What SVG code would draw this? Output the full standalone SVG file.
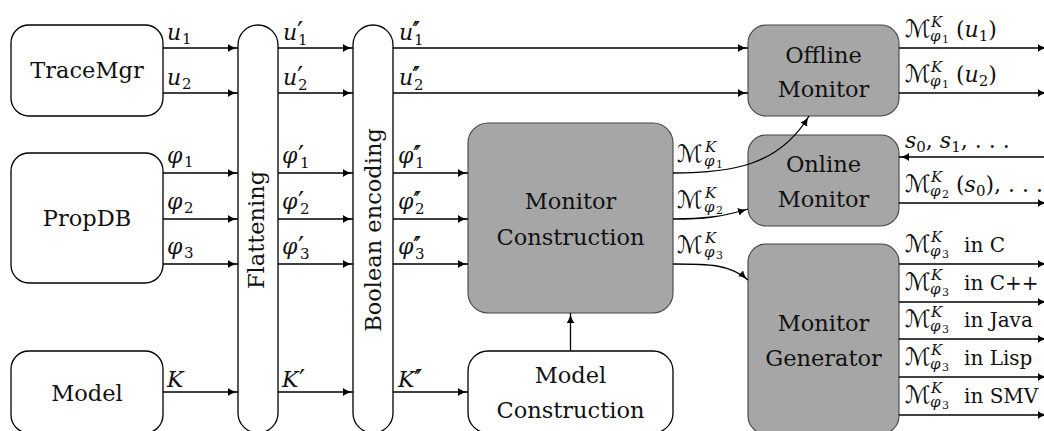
<svg xmlns="http://www.w3.org/2000/svg" width="1044" height="431" viewBox="0 0 1044 431">
  <style>
    .box { fill: #ffffff; stroke: #000000; stroke-width: 1.3; }
    .gbox { fill: #a6a6a6; stroke: #444444; stroke-width: 1.1; }
    .edge { fill: none; stroke: #000000; stroke-width: 1.3; marker-end: url(#arr); }
    .t { font-family: "DejaVu Serif", serif; font-size: 22.5px; text-anchor: middle; fill: #111111; }
    .m { font-family: "DejaVu Serif", serif; font-size: 22px; font-style: italic; fill: #111111; }
    .r { font-style: normal; }
    .s { font-size: 15px; }
    .ss { font-size: 11px; }
    .p { font-family: "DejaVu Serif", serif; font-size: 27px; font-style: normal; fill: #111111; }
    .p2 { letter-spacing: -4px; }
    .in { font-size: 20px; }
    .cal { font-family: "DejaVu Serif", "DejaVu Sans", serif; font-style: normal; font-size: 24px; fill: #111111; }
  </style>
  <defs>
    <marker id="arr" markerUnits="userSpaceOnUse" markerWidth="11" markerHeight="9" refX="10" refY="4" orient="auto">
      <path d="M10,4 C7,4.3 2.5,5.6 0,8 L0,0 C2.5,2.4 7,3.7 10,4 z" fill="#000000"/>
    </marker>
  </defs>

  <!-- source nodes -->
  <g id="tracemgr">
    <rect class="box" x="11" y="25" width="152" height="91" rx="18"/>
    <text class="t" x="87" y="78">TraceMgr</text>
  </g>
  <g id="propdb">
    <rect class="box" x="11" y="153" width="152" height="130" rx="18"/>
    <text class="t" x="87" y="226">PropDB</text>
  </g>
  <g id="model">
    <rect class="box" x="11" y="351" width="152" height="82" rx="18"/>
    <text class="t" x="87" y="401">Model</text>
  </g>

  <!-- transformation stages -->
  <g id="flattening">
    <rect class="box" x="238" y="25" width="40" height="408" rx="20"/>
    <text class="t" transform="translate(264,230) rotate(-90)">Flattening</text>
  </g>
  <g id="boolean-encoding">
    <rect class="box" x="353" y="25" width="40" height="408" rx="20"/>
    <text class="t" transform="translate(381,230) rotate(-90)">Boolean encoding</text>
  </g>

  <g id="monitor-construction">
    <rect class="gbox" x="468" y="123" width="205" height="190" rx="20"/>
    <text class="t" x="570.5" y="209">Monitor</text>
    <text class="t" x="570.5" y="245">Construction</text>
  </g>
  <g id="model-construction">
    <rect class="box" x="468" y="351" width="205" height="82" rx="20"/>
    <text class="t" x="570.5" y="383">Model</text>
    <text class="t" x="570.5" y="418">Construction</text>
  </g>

  <!-- monitor back-ends -->
  <g id="offline-monitor">
    <rect class="gbox" x="748" y="25" width="151" height="91" rx="18"/>
    <text class="t" x="823.5" y="63">Offline</text>
    <text class="t" x="823.5" y="97">Monitor</text>
  </g>
  <g id="online-monitor">
    <rect class="gbox" x="748" y="135" width="151" height="91" rx="18"/>
    <text class="t" x="823.5" y="172">Online</text>
    <text class="t" x="823.5" y="207">Monitor</text>
  </g>
  <g id="monitor-generator">
    <rect class="gbox" x="748" y="244" width="151" height="190" rx="18"/>
    <text class="t" x="823.5" y="331">Monitor</text>
    <text class="t" x="823.5" y="366">Generator</text>
  </g>

  <!-- connectors -->
  <g id="connectors">
    <path class="edge" d="M163,48 H238"/>
    <path class="edge" d="M163,93 H238"/>
    <path class="edge" d="M278,48 H353"/>
    <path class="edge" d="M278,93 H353"/>
    <path class="edge" d="M393,48 H748"/>
    <path class="edge" d="M393,93 H748"/>

    <path class="edge" d="M163,173 H238"/>
    <path class="edge" d="M163,219 H238"/>
    <path class="edge" d="M163,264 H238"/>
    <path class="edge" d="M278,173 H353"/>
    <path class="edge" d="M278,219 H353"/>
    <path class="edge" d="M278,264 H353"/>
    <path class="edge" d="M393,173 H468"/>
    <path class="edge" d="M393,219 H468"/>
    <path class="edge" d="M393,264 H468"/>

    <path class="edge" d="M163,392 H238"/>
    <path class="edge" d="M278,392 H353"/>
    <path class="edge" d="M393,392 H468"/>

    <path class="edge" d="M570.5,351 V313"/>

    <path class="edge" d="M673,173 C731,173 779,166 809,116"/>
    <path class="edge" d="M673,219 C703,219 722,217 748,209"/>
    <path class="edge" d="M673,264 C708,264 730,264 748,280"/>

    <path class="edge" d="M899,48 H1048"/>
    <path class="edge" d="M899,93 H1048"/>
    <path class="edge" d="M1050,157 H899"/>
    <path class="edge" d="M899,203 H1048"/>
    <path class="edge" d="M899,264 H1048"/>
    <path class="edge" d="M899,302 H1048"/>
    <path class="edge" d="M899,339 H1048"/>
    <path class="edge" d="M899,377 H1048"/>
    <path class="edge" d="M899,415 H1048"/>
  </g>

  <!-- edge labels -->
  <g id="labels">
    <text class="m" x="167" y="40">u</text><text class="m r s" x="182" y="44">1</text>
    <text class="m" x="167" y="85">u</text><text class="m r s" x="182" y="89">2</text>
    <text class="m" x="283" y="40">u</text><text class="p" x="297" y="42">′</text><text class="m r s" x="298" y="45">1</text>
    <text class="m" x="283" y="85">u</text><text class="p" x="297" y="87">′</text><text class="m r s" x="298" y="90">2</text>
    <text class="m" x="399" y="40">u</text><text class="p p2" x="412" y="42">′′</text><text class="m r s" x="414" y="45">1</text>
    <text class="m" x="399" y="85">u</text><text class="p p2" x="412" y="87">′′</text><text class="m r s" x="414" y="90">2</text>

    <text class="m" x="167" y="163">φ</text><text class="m r s" x="184" y="167">1</text>
    <text class="m" x="167" y="209">φ</text><text class="m r s" x="184" y="213">2</text>
    <text class="m" x="167" y="254">φ</text><text class="m r s" x="184" y="258">3</text>
    <text class="m" x="282" y="163">φ</text><text class="p" x="298" y="166">′</text><text class="m r s" x="300" y="168">1</text>
    <text class="m" x="282" y="209">φ</text><text class="p" x="298" y="212">′</text><text class="m r s" x="300" y="214">2</text>
    <text class="m" x="282" y="254">φ</text><text class="p" x="298" y="257">′</text><text class="m r s" x="300" y="259">3</text>
    <text class="m" x="398" y="163">φ</text><text class="p p2" x="413" y="166">′′</text><text class="m r s" x="415" y="168">1</text>
    <text class="m" x="398" y="209">φ</text><text class="p p2" x="413" y="212">′′</text><text class="m r s" x="415" y="214">2</text>
    <text class="m" x="398" y="254">φ</text><text class="p p2" x="413" y="257">′′</text><text class="m r s" x="415" y="259">3</text>

    <text class="m" x="167" y="387">K</text>
    <text class="m" x="282" y="387">K</text><text class="p" x="299" y="390">′</text>
    <text class="m" x="398" y="387">K</text><text class="p p2" x="414" y="390">′′</text>

    <!-- monitor construction outputs -->
    <text class="cal" x="677" y="162">ℳ</text><text class="m s" x="705" y="152">K</text><text class="m s" x="704" y="166">φ</text><text class="m r ss" x="716" y="168">1</text>
    <text class="cal" x="677" y="208">ℳ</text><text class="m s" x="705" y="198">K</text><text class="m s" x="704" y="212">φ</text><text class="m r ss" x="716" y="214">2</text>
    <text class="cal" x="677" y="253">ℳ</text><text class="m s" x="705" y="243">K</text><text class="m s" x="704" y="257">φ</text><text class="m r ss" x="716" y="259">3</text>

    <!-- monitor results -->
    <text class="cal" x="905" y="37">ℳ</text><text class="m s" x="931" y="27">K</text><text class="m s" x="930" y="41">φ</text><text class="m r ss" x="942" y="43">1</text>
    <text class="m" x="956" y="37"><tspan class="r">(</tspan>u<tspan class="r s" dy="4">1</tspan><tspan class="r" dy="-4">)</tspan></text>
    <text class="cal" x="905" y="82">ℳ</text><text class="m s" x="931" y="72">K</text><text class="m s" x="930" y="86">φ</text><text class="m r ss" x="942" y="88">1</text>
    <text class="m" x="956" y="82"><tspan class="r">(</tspan>u<tspan class="r s" dy="4">2</tspan><tspan class="r" dy="-4">)</tspan></text>

    <text class="m" x="905" y="148">s<tspan class="r s" dy="4">0</tspan><tspan class="r" dy="-4">, </tspan>s<tspan class="r s" dy="4">1</tspan><tspan class="r" dy="-4">, . . .</tspan></text>

    <text class="cal" x="905" y="192">ℳ</text><text class="m s" x="931" y="182">K</text><text class="m s" x="930" y="196">φ</text><text class="m r ss" x="942" y="198">2</text>
    <text class="m" x="956" y="192"><tspan class="r">(</tspan>s<tspan class="r s" dy="4">0</tspan><tspan class="r" dy="-4">), . . .</tspan></text>

    <text class="cal" x="905" y="252">ℳ</text><text class="m s" x="931" y="242">K</text><text class="m s" x="930" y="256">φ</text><text class="m r ss" x="942" y="258">3</text>
    <text class="m r in" x="964" y="252">in C</text>
    <text class="cal" x="905" y="290">ℳ</text><text class="m s" x="931" y="280">K</text><text class="m s" x="930" y="294">φ</text><text class="m r ss" x="942" y="296">3</text>
    <text class="m r in" x="964" y="290">in C++</text>
    <text class="cal" x="905" y="327">ℳ</text><text class="m s" x="931" y="317">K</text><text class="m s" x="930" y="331">φ</text><text class="m r ss" x="942" y="333">3</text>
    <text class="m r in" x="964" y="327">in Java</text>
    <text class="cal" x="905" y="365">ℳ</text><text class="m s" x="931" y="355">K</text><text class="m s" x="930" y="369">φ</text><text class="m r ss" x="942" y="371">3</text>
    <text class="m r in" x="964" y="365">in Lisp</text>
    <text class="cal" x="905" y="403">ℳ</text><text class="m s" x="931" y="393">K</text><text class="m s" x="930" y="407">φ</text><text class="m r ss" x="942" y="409">3</text>
    <text class="m r in" x="964" y="403">in SMV</text>
  </g>
</svg>
